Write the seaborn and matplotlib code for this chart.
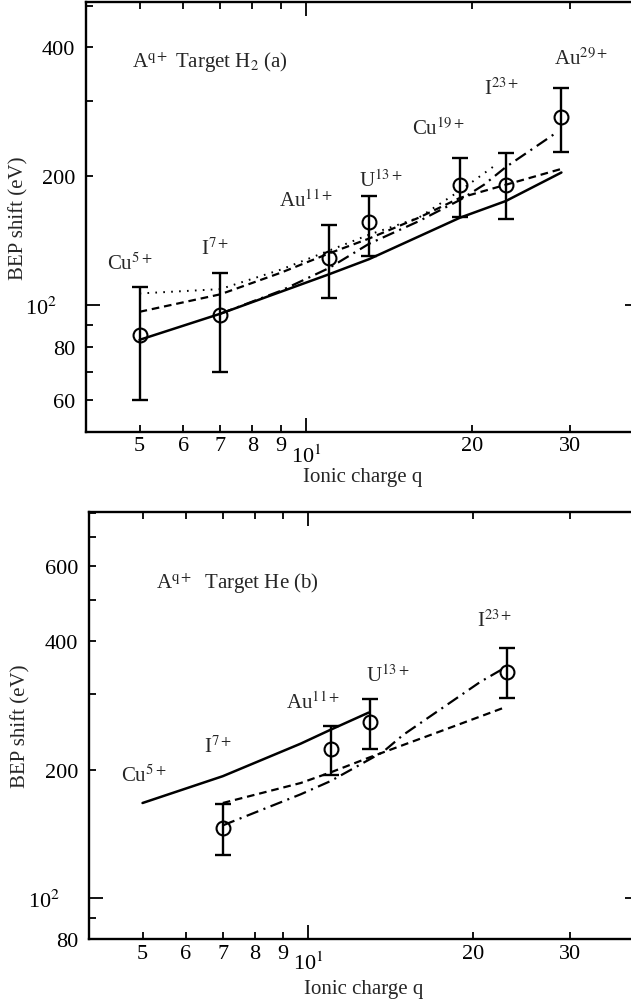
import numpy as np
import pandas as pd
import matplotlib
matplotlib.use("Agg")
import matplotlib.pyplot as plt
from matplotlib.ticker import FixedLocator, FixedFormatter
import seaborn as sns

# ---------------- data: panel (a) target H2 ----------------
q_a = [5, 7, 11, 13, 19, 23, 29]
ions_a = ["Cu", "I", "Au", "U", "Cu", "I", "Au"]
bep_a = [85, 95, 129, 156, 191, 191, 275]
lo_a = [60, 70, 104, 130, 161, 159, 228]
hi_a = [110, 119, 154, 180, 221, 227, 321]

solid_q_a = [5, 7, 11, 13, 19, 23, 29]
solid_y_a = [83, 95.5, 118, 128, 160, 175, 204]
dash_q_a = [5, 7, 9, 11, 13, 16, 19, 23, 29]
dash_y_a = [96.5, 106, 119, 132, 143, 160, 178, 191, 208]
dot_q_a = [5, 7, 9, 11, 13, 16, 19, 22]
dot_y_a = [106.5, 109, 121, 134, 146, 160, 185, 212]
dd_q_a = [7, 9, 11, 13, 16, 19, 21, 23, 28.3]
dd_y_a = [95.5, 108, 122, 139, 157, 176, 191, 210, 252]

# ---------------- data: panel (b) target He ----------------
q_b = [7, 11, 13, 23]
bep_b = [146, 224, 258, 338]
lo_b = [126, 194.5, 223, 294]
hi_b = [166, 253, 292, 385]

solid_q_b = [5, 7, 9.7, 11, 12.9]
solid_y_b = [167, 193, 230, 248, 272]
dash_q_b = [7, 9.7, 11, 13, 17, 22.7]
dash_y_b = [167, 186, 197, 214, 243, 279]
dd_q_b = [7, 9.7, 11, 13.7, 14.9, 20.6, 22.7]
dd_y_b = [148, 175, 188, 220, 241, 321, 345]

# labels (text, q, y)
labels_a = [(r"Cu$^{\mathrm{5+}}$", 4.8, 125), (r"I$^{\mathrm{7+}}$", 6.86, 136),
            (r"Au$^{\mathrm{11+}}$", 10.0, 176), (r"U$^{\mathrm{13+}}$", 13.65, 196),
            (r"Cu$^{\mathrm{19+}}$", 17.4, 259), (r"I$^{\mathrm{23+}}$", 22.6, 321),
            (r"Au$^{\mathrm{29+}}$", 31.4, 377)]
labels_b = [(r"Cu$^{\mathrm{5+}}$", 5.03, 194), (r"I$^{\mathrm{7+}}$", 6.87, 227),
            (r"Au$^{\mathrm{11+}}$", 10.2, 288), (r"U$^{\mathrm{13+}}$", 14.0, 333),
            (r"I$^{\mathrm{23+}}$", 21.9, 449)]

xticks_minor = [5, 6, 7, 8, 9, 20, 30]
xtick_labels = ["5", "6", "7", "8", "9", "20", "30"]

sns.set_theme(style="ticks")
plt.rcParams["font.family"] = ["Liberation Serif", "DejaVu Serif"]
plt.rcParams["mathtext.fontset"] = "stix"
plt.rcParams["lines.scale_dashes"] = False

fig = plt.figure(figsize=(6.31, 10.03), dpi=100)
W, H = 631, 1003
ax_a = fig.add_axes([86 / W, (H - 433.3) / H, (638.6 - 86) / W, 430.3 / H])
ax_b = fig.add_axes([89.3 / W, (H - 940.4) / H, (638.6 - 89.3) / W, 427.9 / H])

FS = 15
TFS = 16


def draw_line(ax, q, y, style):
    df = pd.DataFrame({"q": q, "y": y})
    sns.lineplot(data=df, x="q", y="y", ax=ax, color="black", sort=False,
                 estimator=None, linewidth=1.6)
    ln = ax.lines[-1]
    if style == "solid":
        ln.set_linestyle("-")
        ln.set_linewidth(1.8)
    elif style == "dash":
        ln.set_linestyle((0, (5.5, 3.5)))
    elif style == "dot":
        ln.set_linewidth(1.4)
        ln.set_linestyle((0, (1.2, 4.5)))
    elif style == "dashdot":
        ln.set_linestyle((0, (9, 4, 1.5, 4)))


def draw_points(ax, q, v, lo, hi):
    v = np.array(v, float)
    err = [v - np.array(lo, float), np.array(hi, float) - v]
    ax.errorbar(q, v, yerr=err, fmt="none", ecolor="black", elinewidth=1.7,
                capsize=5.5, capthick=1.7, zorder=3)
    df = pd.DataFrame({"q": q, "v": v})
    sns.lineplot(data=df, x="q", y="v", ax=ax, linestyle="", marker="o",
                 markersize=10, markerfacecolor="none", markeredgecolor="black",
                 markeredgewidth=1.5, color="black", estimator=None, sort=False)


def style_axes(ax, ylim, ymajor, yminor, yminor_labels, ylab_x, xlab_y):
    ax.set_xscale("log")
    ax.set_yscale("log")
    ax.set_xlim(4, 40)
    ax.set_ylim(*ylim)
    ax.xaxis.set_major_locator(FixedLocator([10]))
    ax.xaxis.set_major_formatter(FixedFormatter([r"10$^{\mathrm{1}}$"]))
    ax.xaxis.set_minor_locator(FixedLocator(xticks_minor))
    ax.xaxis.set_minor_formatter(FixedFormatter(xtick_labels))
    ax.yaxis.set_major_locator(FixedLocator(ymajor))
    ax.yaxis.set_major_formatter(FixedFormatter([r"10$^{\mathrm{2}}$"]))
    ax.yaxis.set_minor_locator(FixedLocator(yminor))
    ax.yaxis.set_minor_formatter(FixedFormatter(yminor_labels))
    ax.tick_params(which="both", direction="in", top=True, right=True,
                   labelsize=TFS, colors="black", width=1.3)
    ax.tick_params(axis="x", which="major", length=10, pad=9)
    ax.tick_params(axis="x", which="minor", length=5, pad=3)
    ax.tick_params(axis="y", which="major", length=10, pad=21)
    ax.tick_params(axis="y", which="minor", length=5, pad=8)
    for s in ax.spines.values():
        s.set_linewidth(1.7)
        s.set_color("black")
    ax.set_xlabel("Ionic charge q", fontsize=FS)
    ax.set_ylabel("BEP shift (eV)", fontsize=FS)
    ax.yaxis.set_label_coords(ylab_x, 0.5)
    ax.xaxis.set_label_coords(0.5, xlab_y)
    ax.set_facecolor("white")


# ---------- panel (a) ----------
draw_line(ax_a, solid_q_a, solid_y_a, "solid")
draw_line(ax_a, dash_q_a, dash_y_a, "dash")
draw_line(ax_a, dot_q_a, dot_y_a, "dot")
draw_line(ax_a, dd_q_a, dd_y_a, "dashdot")
draw_points(ax_a, q_a, bep_a, lo_a, hi_a)
style_axes(ax_a, (50.5, 510), [100],
           [60, 70, 80, 90, 200, 300, 400, 500],
           ["60", "", "80", "", "200", "", "400", ""],
           (28 - 86) / 552.6, (433.3 - 468) / 430.3)
ax_a.text(4.85, 370, r"A$^{\mathrm{q+}}$ Target H$_{\mathrm{2}}$ (a)",
          fontsize=FS, ha="left", va="center")
for t, x, y in labels_a:
    ax_a.text(x, y, t, fontsize=FS, ha="center", va="center")

# ---------- panel (b) ----------
draw_line(ax_b, solid_q_b, solid_y_b, "solid")
draw_line(ax_b, dash_q_b, dash_y_b, "dash")
draw_line(ax_b, dd_q_b, dd_y_b, "dashdot")
draw_points(ax_b, q_b, bep_b, lo_b, hi_b)
style_axes(ax_b, (80, 805), [100],
           [80, 90, 200, 300, 400, 500, 600, 700, 800],
           ["80", "", "200", "", "400", "", "600", "", ""],
           (30 - 89.3) / 549.3, (940.4 - 980) / 427.9)
ax_b.text(5.28, 547, r"A$^{\mathrm{q+}}$  Target He (b)",
          fontsize=FS, ha="left", va="center")
for t, x, y in labels_b:
    ax_b.text(x, y, t, fontsize=FS, ha="center", va="center")

fig.savefig("out.png", dpi=100, facecolor="white")
